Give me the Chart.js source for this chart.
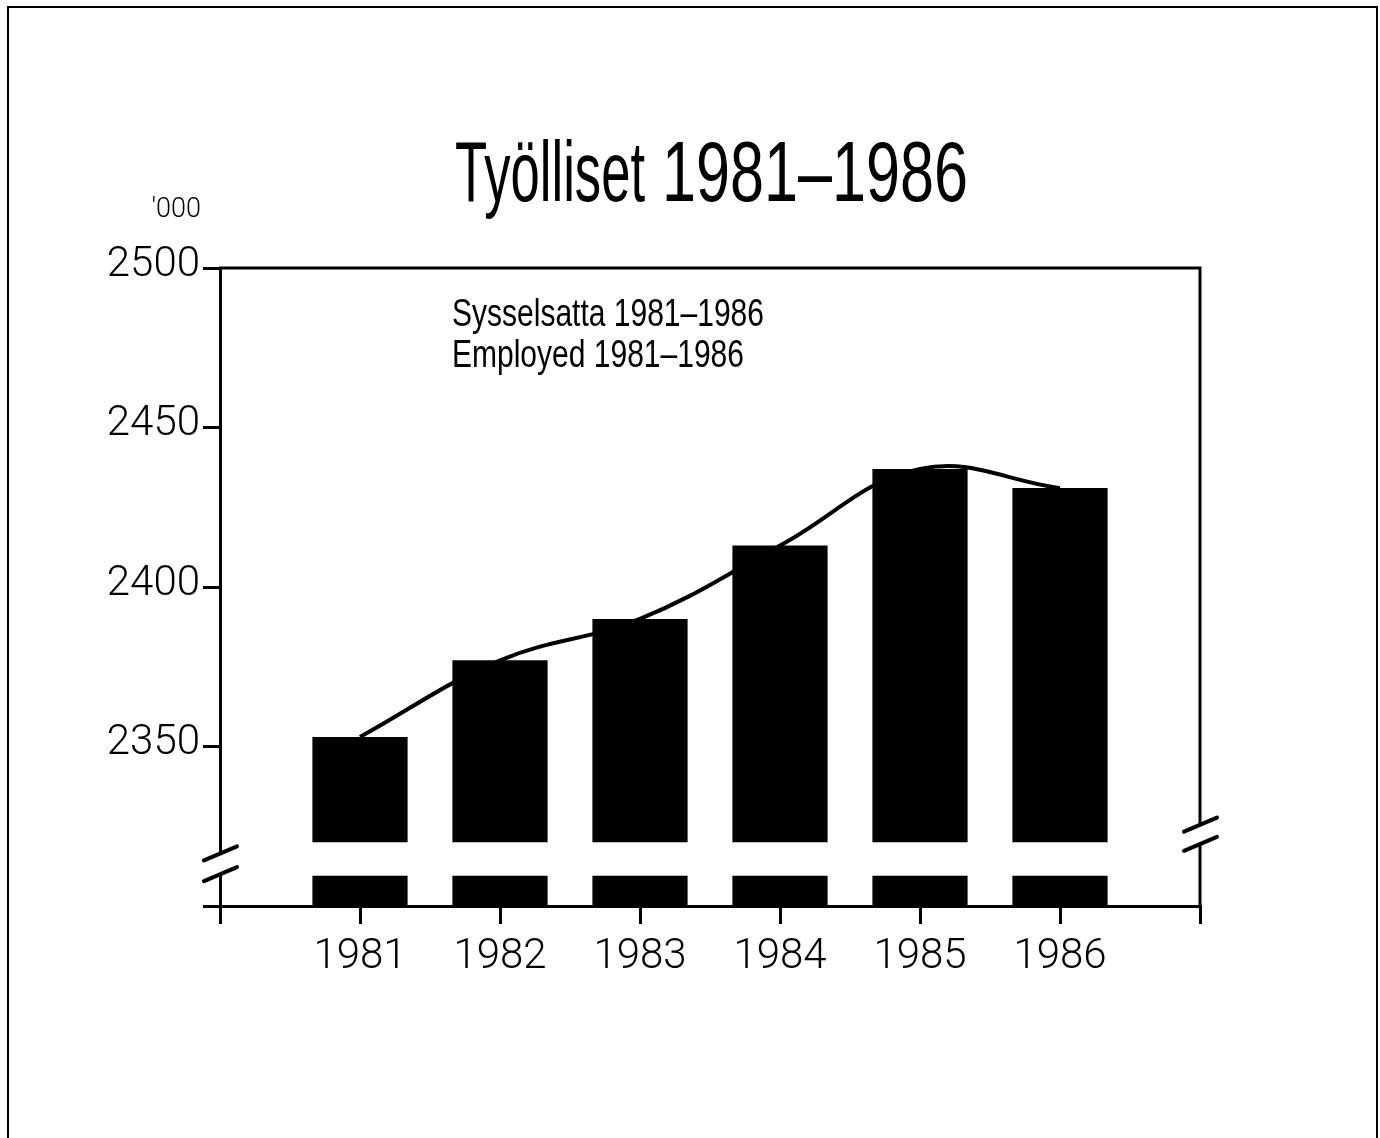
<!DOCTYPE html>
<html><head><meta charset="utf-8">
<script src="https://cdn.jsdelivr.net/npm/chart.js@4.4.1/dist/chart.umd.min.js"></script>
<style>html,body{margin:0;padding:0;background:#fff}#wrap{position:relative;width:1380px;height:1138px}</style>
</head><body><div id="wrap"><canvas id="c"></canvas></div>
<script>
// ---- data ----
const years = [1981, 1982, 1983, 1984, 1985, 1986];
const employed = [2353, 2377, 2390, 2413, 2437, 2431];
const yTickLabels = [2350, 2400, 2450, 2500];
const xTickLabels = years;
const titleWords = ['Työlliset', '1981–1986'];
const noteLines = ['Sysselsatta 1981–1986', 'Employed 1981–1986'];
const unitText = "'000";
const axisMin = 2300, axisMax = 2500;
const breakUpper = 2320;   // upper bar segments start here
const breakLower = 2309.5; // lower bar segments end here

const upperBars = years.map((yr, i) => ({x: yr, y: [breakUpper, employed[i]]}));
const lowerBars = years.map(yr => ({x: yr, y: [axisMin, breakLower]}));
const linePts = years.map((yr, i) => ({x: yr, y: employed[i]}));

const tickFont = {family: 'Roboto', size: 42, weight: 300};

function drawFit(ctx, text, x, baseline, font, sx) {
  ctx.font = font;
  ctx.save(); ctx.translate(x, baseline); ctx.scale(sx, 1);
  ctx.fillText(text, 0, 0); ctx.restore();
}
function scaleFor(ctx, text, font, width) {
  ctx.font = font; return width / ctx.measureText(text).width;
}
function breakMark(ctx, x, y1, y2) {
  ctx.fillStyle = '#fff';
  ctx.fillRect(x - 4, y1, 8, y2 - y1);
  ctx.strokeStyle = '#000'; ctx.lineWidth = 4; ctx.lineCap = 'round';
  for (const yy of [y1, y2]) {
    ctx.beginPath(); ctx.moveTo(x - 16, yy + 7); ctx.lineTo(x + 17, yy - 7); ctx.stroke();
  }
}

const decor = {
  id: 'decor',
  beforeDraw(chart) {
    const {ctx, width, height} = chart;
    ctx.save();
    ctx.fillStyle = '#fff'; ctx.fillRect(0, 0, width, height);
    ctx.strokeStyle = '#000'; ctx.lineWidth = 2;
    ctx.beginPath(); ctx.moveTo(8, height + 5); ctx.lineTo(8, 7); ctx.lineTo(1377, 7); ctx.lineTo(1377, height + 5); ctx.stroke();
    ctx.restore();
  },
  afterDraw(chart) {
    const {ctx, chartArea: a} = chart;
    const y = chart.scales.y;
    ctx.save();
    ctx.strokeStyle = '#000'; ctx.lineWidth = 3; ctx.lineCap = 'butt';
    ctx.beginPath(); ctx.moveTo(a.left - 1, a.top); ctx.lineTo(a.right, a.top); ctx.lineTo(a.right, a.bottom); ctx.stroke();
    breakMark(ctx, a.left, y.getPixelForValue(2316.5), y.getPixelForValue(2310));
    breakMark(ctx, a.right, y.getPixelForValue(2325.5), y.getPixelForValue(2319.5));
    ctx.fillStyle = '#000'; ctx.textAlign = 'left'; ctx.textBaseline = 'alphabetic';
    const tf = '86px "Liberation Sans"';
    drawFit(ctx, titleWords[0], 455, 201, tf, scaleFor(ctx, titleWords[0], tf, 190));
    drawFit(ctx, titleWords[1], 662, 201, tf, scaleFor(ctx, titleWords[1], tf, 306));
    const nf = '38px "Liberation Sans"';
    const ns = scaleFor(ctx, noteLines[0], nf, 312);
    noteLines.forEach((t, i) => {
      drawFit(ctx, t, 452, 326 + i * 41, nf, ns);
    });
    ctx.font = '300 27px Roboto'; ctx.textAlign = 'right';
    ctx.fillText(unitText, 201, 217);
    ctx.restore();
  }
};

new Chart(document.getElementById('c'), {
  type: 'bar',
  data: {
    datasets: [
      {type: 'line', data: linePts, borderColor: '#000', borderWidth: 4, pointRadius: 0, tension: 0.4, fill: false},
      {data: upperBars, backgroundColor: '#000', borderWidth: 0, grouped: false, barPercentage: 1, categoryPercentage: 0.68},
      {data: lowerBars, backgroundColor: '#000', borderWidth: 0, grouped: false, barPercentage: 1, categoryPercentage: 0.68}
    ]
  },
  options: {
    responsive: true, maintainAspectRatio: false, animation: false,
    layout: {padding: {left: 0, right: 180, top: 268, bottom: 152}},
    plugins: {legend: {display: false}, title: {display: false}, tooltip: {enabled: false}},
    scales: {
      x: {
        type: 'linear', min: 1980, max: 1987, offset: false,
        afterFit(s) { s.height = 80; },
        afterBuildTicks(s) { s.ticks = [1980, ...xTickLabels, 1987].map(v => ({value: v})); },
        ticks: {color: '#000', font: tickFont, padding: 8, maxRotation: 0, autoSkip: false,
          callback: v => xTickLabels.includes(v) ? String(v) : ''},
        grid: {offset: false, drawOnChartArea: false, drawTicks: true, tickLength: 18, color: '#000', lineWidth: 3},
        border: {display: true, color: '#000', width: 3}
      },
      y: {
        min: axisMin, max: axisMax,
        afterFit(s) { s.width = 220; },
        afterBuildTicks(s) { s.ticks = [axisMin, ...yTickLabels].map(v => ({value: v})); },
        ticks: {color: '#000', font: tickFont, padding: 3, labelOffset: -3,
          callback: v => yTickLabels.includes(v) ? String(v) : ''},
        grid: {drawOnChartArea: false, drawTicks: true, tickLength: 17, color: '#000', lineWidth: 3},
        border: {display: true, color: '#000', width: 3}
      }
    }
  },
  plugins: [decor]
});
</script></body></html>
